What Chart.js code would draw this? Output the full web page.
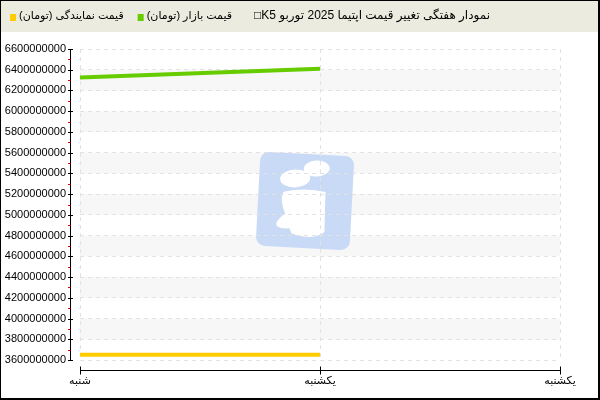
<!DOCTYPE html>
<html>
<head>
<meta charset="utf-8">
<script src="https://cdn.jsdelivr.net/npm/chart.js@4"></script>
<style>
  html, body { margin: 0; padding: 0; background: #fff; }
</style>
</head>
<body>
<canvas id="priceChart" width="600" height="400"></canvas>
<script>
// داده‌های نمودار
const days = ['شنبه', 'یکشنبه', 'یکشنبه'];
const marketPrice = [6326000000, 6410000000, null];
const dealerPrice = [3651000000, 3651000000, null];
const seriesNames = ['قیمت بازار (تومان)', 'قیمت نمایندگی (تومان)'];
const seriesColors = ['#66cc00', '#ffcc00'];
const titleText = 'نمودار هفتگی تغییر قیمت اپتیما 2025 توربو K5□';
const yMin = 3600000000;
const yMax = 6600000000;
const yStep = 200000000;

const fontFamily = "'Liberation Sans', 'DejaVu Sans', sans-serif";
Chart.defaults.font.family = fontFamily;
Chart.defaults.color = '#000';

// Hintergrund, Kopfzeile, Bänder, Wasserzeichen
const framePlugin = {
  id: 'frame',
  beforeDraw(chart) {
    const { ctx, chartArea: a, scales: { y } } = chart;
    ctx.save();
    ctx.fillStyle = '#fff';
    ctx.fillRect(0, 0, chart.width, chart.height);
    ctx.fillStyle = '#ecebdf';
    ctx.fillRect(0, 0, chart.width, 32);

    // abwechselnde Bänder
    ctx.fillStyle = '#f7f7f7';
    const ticks = y.ticks;
    for (let i = 0; i < ticks.length - 1; i++) {
      const upper = ticks[i + 1].value;
      const idx = Math.round((yMax - upper) / yStep);
      if (idx % 2 === 1) {
        const top = y.getPixelForValue(upper);
        const bottom = y.getPixelForValue(ticks[i].value);
        ctx.fillRect(a.left, top, a.right - a.left, bottom - top);
      }
    }

    // Wasserzeichen
    ctx.translate(305, 201);
    ctx.rotate(3 * Math.PI / 180);
    ctx.fillStyle = '#c8daf6';
    ctx.beginPath();
    ctx.roundRect(-47, -47, 94, 94, 9);
    ctx.fill();
    ctx.fillStyle = '#fff';
    ctx.beginPath();
    ctx.ellipse(-11, -22, 15, 9, -0.1, 0, Math.PI * 2);
    ctx.fill();
    ctx.beginPath();
    ctx.ellipse(10, -33, 13, 8, -0.1, 0, Math.PI * 2);
    ctx.fill();
    ctx.beginPath();
    ctx.moveTo(-22, -8);
    ctx.quadraticCurveTo(0, -14, 20, -10);
    ctx.lineTo(21, 30);
    ctx.quadraticCurveTo(10, 40, -12, 33);
    ctx.lineTo(-14, 28);
    ctx.quadraticCurveTo(-30, 30, -27, 22);
    ctx.quadraticCurveTo(-22, 15, -19, 14);
    ctx.quadraticCurveTo(-26, 0, -22, -8);
    ctx.fill();
    ctx.restore();
  },
  afterDraw(chart) {
    const { ctx, chartArea: a, scales: { x, y } } = chart;
    ctx.save();
    ctx.strokeStyle = '#000';
    ctx.lineWidth = 1;

    // y-Achse
    const ax = a.left - 10 + 0.5;
    const yTop = y.getPixelForValue(yMax);
    const yBot = y.getPixelForValue(yMin);
    ctx.beginPath();
    ctx.moveTo(ax, yTop);
    ctx.lineTo(ax, yBot);
    y.ticks.forEach(t => {
      const py = Math.round(y.getPixelForValue(t.value)) + 0.5;
      ctx.moveTo(ax - 2.5, py);
      ctx.lineTo(ax + 2.5, py);
    });
    ctx.stroke();
    ctx.strokeStyle = '#e00000';
    ctx.beginPath();
    for (let i = 0; i < y.ticks.length - 1; i++) {
      const mid = (y.getPixelForValue(y.ticks[i].value) + y.getPixelForValue(y.ticks[i + 1].value)) / 2;
      const py = Math.round(mid) + 0.5;
      ctx.moveTo(ax - 2.5, py);
      ctx.lineTo(ax, py);
    }
    ctx.stroke();

    // x-Achse
    ctx.strokeStyle = '#000';
    const ay = a.bottom + 10 + 0.5;
    ctx.beginPath();
    ctx.moveTo(a.left, ay);
    ctx.lineTo(a.right, ay);
    x.ticks.forEach((t, i) => {
      const px = Math.round(x.getPixelForTick(i)) + 0.5;
      ctx.moveTo(px, ay - 4);
      ctx.lineTo(px, ay + 4);
    });
    ctx.stroke();

    // Titel und Legende
    ctx.fillStyle = '#000';
    ctx.font = '12px ' + fontFamily;
    ctx.textBaseline = 'middle';
    ctx.direction = 'rtl';
    ctx.textAlign = 'right';
    const titleRight = 490;
    ctx.fillText(titleText, titleRight, 16);
    let cursor = 232;
    ctx.font = '11px ' + fontFamily;
    chart.data.datasets.forEach(ds => {
      const w = ctx.measureText(ds.label).width;
      ctx.fillStyle = '#000';
      ctx.fillText(ds.label, cursor, 16);
      const sq = cursor - w - 9;
      ctx.fillStyle = ds.borderColor;
      ctx.fillRect(sq, 14, 6, 7);
      cursor = sq - 14;
    });

    // Rahmen
    ctx.fillStyle = '#000';
    ctx.fillRect(0, 0, chart.width, 1);
    ctx.fillRect(0, 0, 1, chart.height);
    ctx.fillRect(chart.width - 2, 0, 2, chart.height);
    ctx.fillRect(0, chart.height - 2, chart.width, 2);
    ctx.restore();
  }
};

const ctxChart = document.getElementById('priceChart');

const priceChart = new Chart(ctxChart, {
  type: 'line',
  data: {
    labels: days,
    datasets: [
      {
        label: seriesNames[0],
        data: marketPrice,
        borderColor: seriesColors[0],
        backgroundColor: seriesColors[0],
        borderWidth: 4
      },
      {
        label: seriesNames[1],
        data: dealerPrice,
        borderColor: seriesColors[1],
        backgroundColor: seriesColors[1],
        borderWidth: 4
      }
    ]
  },
  options: {
    responsive: false,
    animation: false,
    layout: { padding: { top: 49, right: 40, bottom: 0, left: 0 } },
    elements: {
      point: { radius: 0, hoverRadius: 0 },
      line: { tension: 0, borderCapStyle: 'butt', fill: false }
    },
    plugins: {
      legend: { display: false },
      title: { display: false },
      tooltip: { enabled: false }
    },
    scales: {
      x: {
        offset: false,
        grid: { color: '#e2e2e2', drawTicks: false, borderDash: [4, 4] },
        border: { display: false, dash: [4, 4] },
        ticks: { padding: 14, color: '#000', font: { size: 11 }, maxRotation: 0, autoSkip: false },
        afterFit: s => { s.height = 40; }
      },
      y: {
        min: yMin,
        max: yMax,
        grid: { color: '#e2e2e2', drawTicks: false, borderDash: [4, 4] },
        border: { display: false, dash: [4, 4] },
        ticks: {
          stepSize: yStep,
          padding: 14,
          color: '#000',
          font: { size: 11 },
          autoSkip: false,
          callback: v => String(Math.round(v))
        },
        afterFit: s => { s.width = 80; }
      }
    }
  },
  plugins: [framePlugin]
});
</script>
</body>
</html>
